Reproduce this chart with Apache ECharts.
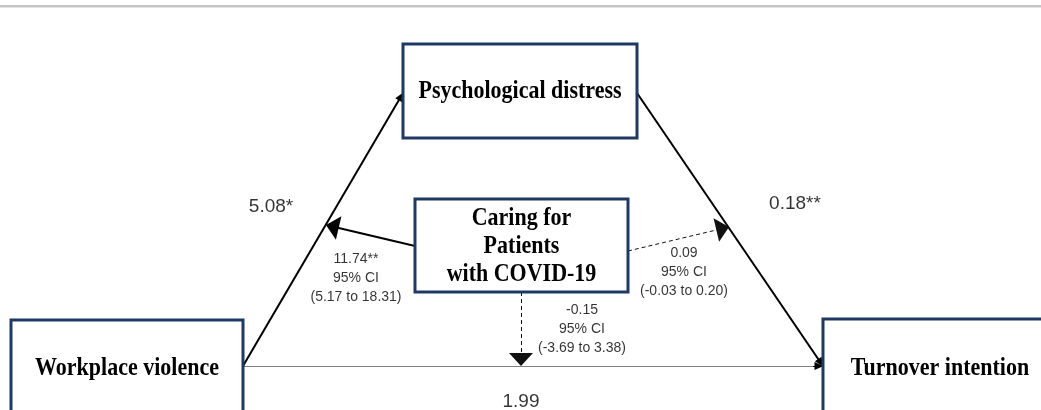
<!DOCTYPE html>
<html>
<head>
<meta charset="utf-8">
<script src="https://cdn.jsdelivr.net/npm/echarts@6/dist/echarts.min.js"></script>
<style>
  html, body { margin: 0; padding: 0; background: #fff; }
  #main { width: 1041px; height: 410px; }
</style>
</head>
<body>
<div id="main"></div>
<script>
  // variables of the moderated mediation model
  const variables = ['Workplace violence', 'Psychological distress', 'Caring for\nPatients\nwith COVID-19', 'Turnover intention'];
  // path coefficients: a (violence -> distress), b (distress -> turnover), c' (violence -> turnover)
  const pathCoef = ['5.08*', '0.18**', '1.99'];
  // moderation of a, b, c' by caring for COVID-19 patients
  const modCoef = ['11.74**', '0.09', '-0.15'];
  const ciLow = ['5.17', '-0.03', '-3.69'];
  const ciHigh = ['18.31', '0.20', '3.38'];

  // layout (pixel units on hidden axes)
  const boxes = [[11, 320, 243, 416], [403, 44, 637, 138], [415, 199, 628, 292], [823, 319, 1057, 416]];
  const mainPaths = [[[243, 366], [403, 93]], [[637, 93], [823, 366]], [[243, 366], [823, 366]]];
  const modPaths = [[[415, 246], [326, 225]], [[628, 251], [729, 227]], [[521, 292], [521, 366]]];
  const coefPos = [[271, 207], [795, 204], [521, 402]];
  const modPos = [[356, 278], [684, 272], [582, 329]];

  // pull the line end back so the triangle tip lands on the target
  function shorten(seg, len) {
    const a = seg[0], b = seg[1];
    const dx = b[0] - a[0], dy = b[1] - a[1];
    const d = Math.sqrt(dx * dx + dy * dy);
    return [a, [b[0] - dx / d * len, b[1] - dy / d * len]];
  }

  const myChart = echarts.init(document.getElementById('main'));

  // main paths: two solid black, the direct one thin grey with a black head
  const mainData = [];
  mainPaths.forEach(function (seg, i) {
    if (i < 2) {
      mainData.push({
        coords: shorten(seg, 4),
        symbol: ['none', 'triangle'],
        symbolSize: [1, [8, 9]],
        lineStyle: { color: '#000', width: 2, type: 'solid' }
      });
    } else {
      mainData.push({
        coords: seg,
        symbol: ['none', 'none'],
        lineStyle: { color: '#808080', width: 1.2, type: 'solid' }
      });
      mainData.push({
        coords: shorten([[seg[1][0] - 10, seg[1][1]], seg[1]], 4),
        symbol: ['none', 'triangle'],
        symbolSize: [1, [8, 9]],
        lineStyle: { color: '#000', width: 1, type: 'solid' }
      });
    }
  });

  const option = {
    animation: false,
    grid: { left: 0, right: 0, top: 0, bottom: 0 },
    xAxis: { type: 'value', min: 0, max: 1041, show: false },
    yAxis: { type: 'value', min: 0, max: 410, inverse: true, show: false },
    graphic: [
      { type: 'rect', shape: { x: 0, y: 5, width: 1041, height: 2.5 }, style: { fill: '#c4c4c4' } }
    ],
    series: [
      {
        type: 'lines',
        coordinateSystem: 'cartesian2d',
        z: 2,
        data: mainData,
        lineStyle: { opacity: 1 }
      },
      {
        // moderation paths
        type: 'lines',
        coordinateSystem: 'cartesian2d',
        z: 2,
        data: modPaths.map(function (seg, i) {
          return {
            coords: shorten(seg, 6.5),
            symbol: ['none', 'triangle'],
            symbolSize: [1, [24, 13]],
            lineStyle: i === 0
              ? { color: '#000', width: 2, type: 'solid' }
              : { color: '#111', width: 1, type: [4, 3] }
          };
        }),
        lineStyle: { opacity: 1 }
      },
      {
        type: 'custom',
        coordinateSystem: 'cartesian2d',
        z: 3,
        data: boxes,
        renderItem: function (params, api) {
          const p0 = api.coord([api.value(0), api.value(1)]);
          const p1 = api.coord([api.value(2), api.value(3)]);
          return {
            type: 'group',
            children: [
              {
                type: 'rect',
                shape: { x: p0[0], y: p0[1], width: p1[0] - p0[0], height: p1[1] - p0[1] },
                style: { fill: '#fff', stroke: '#203864', lineWidth: 3 }
              },
              {
                type: 'text',
                x: (p0[0] + p1[0]) / 2,
                y: (p0[1] + p1[1]) / 2 + 1,
                scaleY: 1.13,
                style: {
                  text: variables[params.dataIndex],
                  font: 'bold 22px "Liberation Serif"',
                  lineHeight: 24.5,
                  align: 'center',
                  verticalAlign: 'middle',
                  fill: '#000'
                }
              }
            ]
          };
        }
      },
      {
        // path coefficients
        type: 'scatter',
        z: 4,
        symbolSize: 0,
        data: coefPos.map(function (p, i) {
          return { value: p, name: pathCoef[i] };
        }),
        label: {
          show: true,
          position: 'inside',
          formatter: '{b}',
          fontFamily: 'Liberation Sans',
          fontSize: 19,
          color: '#000'
        }
      },
      {
        // moderation estimates with 95% CI
        type: 'scatter',
        z: 4,
        symbolSize: 0,
        data: modPos.map(function (p, i) {
          return { value: p, name: modCoef[i] + '\n95% CI\n(' + ciLow[i] + ' to ' + ciHigh[i] + ')' };
        }),
        label: {
          show: true,
          position: 'inside',
          formatter: '{b}',
          fontFamily: 'Liberation Sans',
          fontSize: 14,
          lineHeight: 19,
          color: '#000'
        }
      }
    ]
  };

  myChart.setOption(option);
</script>
</body>
</html>
